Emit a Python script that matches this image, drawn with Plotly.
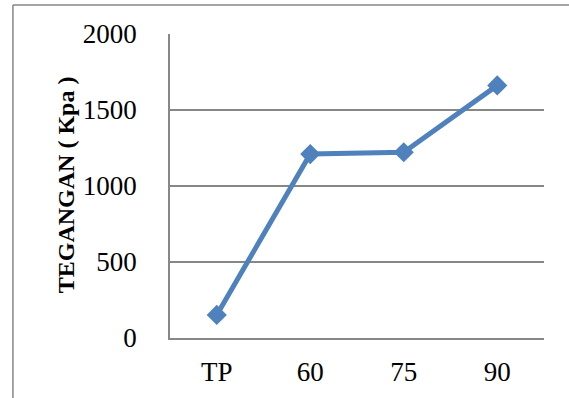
import plotly.graph_objects as go

# Stress (tegangan) per sample
categories = ["TP", "60", "75", "90"]
tegangan = [152, 1210, 1222, 1662]
y_ticks = [0, 500, 1000, 1500, 2000]

BLUE = "#4F81BD"
GRID = "#878787"
FONT = "Liberation Serif"

fig = go.Figure(
    go.Scatter(
        x=categories,
        y=tegangan,
        mode="lines+markers",
        line=dict(color=BLUE, width=5),
        marker=dict(symbol="diamond", size=15.5, color=BLUE),
        showlegend=False,
    )
)

fig.update_layout(
    width=569,
    height=398,
    margin=dict(l=170, r=25, t=34, b=60, autoexpand=False),
    paper_bgcolor="white",
    plot_bgcolor="white",
    font=dict(family=FONT, size=27, color="black"),
    xaxis=dict(
        type="category",
        range=[-0.5, 3.5],
        automargin=False,
        showgrid=False,
        showline=True,
        linecolor=GRID,
        linewidth=1.5,
        ticks="",
        ticklabelstandoff=9,
        zeroline=False,
        fixedrange=True,
    ),
    yaxis=dict(
        range=[0, 2000],
        tickvals=y_ticks,
        automargin=False,
        showgrid=True,
        gridcolor=GRID,
        gridwidth=1.5,
        showline=True,
        linecolor=GRID,
        linewidth=1.5,
        ticks="",
        ticklabelstandoff=26,
        zeroline=False,
        fixedrange=True,
    ),
    annotations=[
        dict(
            text="<b>TEGANGAN ( Kpa )</b>",
            textangle=-90,
            xref="paper",
            yref="paper",
            x=-0.276,
            y=0.505,
            xanchor="center",
            yanchor="middle",
            showarrow=False,
            font=dict(family=FONT, size=24, color="black"),
        )
    ],
    shapes=[
        # outer chart-area frame (left and top edges)
        dict(type="line", xref="paper", yref="paper",
             x0=-0.42, x1=-0.42, y0=1.095, y1=-0.3,
             line=dict(color=GRID, width=1.5)),
        dict(type="line", xref="paper", yref="paper",
             x0=-0.42, x1=1.2, y0=1.095, y1=1.095,
             line=dict(color=GRID, width=1.5)),
    ],
)

fig.write_html("out.html")
